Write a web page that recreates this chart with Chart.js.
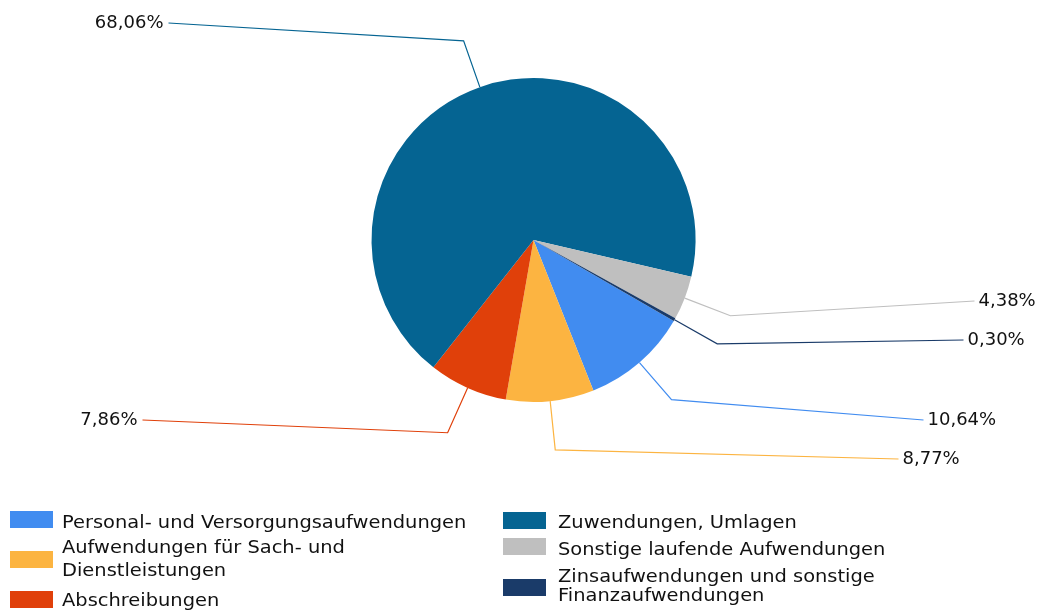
<!DOCTYPE html>
<html>
<head>
<meta charset="utf-8">
<script src="https://cdn.jsdelivr.net/npm/chart.js@4/dist/chart.umd.min.js"></script>
<style>
  body { margin: 0; background: #fff; }
  #wrap { position: relative; width: 1043px; height: 613px; overflow: hidden; }
  #pieChart { position: absolute; left: 0; top: 0; }
  .lg { position: absolute; font: 18px "DejaVu Sans", sans-serif; color: #111; white-space: nowrap;
        transform: scaleX(1.08); transform-origin: 0 0; }
  .sw { position: absolute; width: 43px; height: 17px; }
</style>
</head>
<body>
<div id="wrap">
  <canvas id="pieChart" width="1043" height="613"></canvas>
</div>
<script>
// categories and shares (in %)
const categories = [
  "Personal- und Versorgungsaufwendungen",
  "Aufwendungen für Sach- und Dienstleistungen",
  "Abschreibungen",
  "Zuwendungen, Umlagen",
  "Sonstige laufende Aufwendungen",
  "Zinsaufwendungen und sonstige Finanzaufwendungen"
];
const shares = [10.64, 8.77, 7.86, 68.06, 4.38, 0.30];
const colors = ["#418CF0", "#FCB441", "#E0400A", "#056492", "#BFBFBF", "#1A3B69"];

// where the leader lines end, relative to pie centre
const labelEnds = [[390, 180], [365, 219], [-391, 180], [-365, -217], [441, 61], [430, 100]];

const leaderLabels = {
  id: 'leaderLabels',
  afterDatasetsDraw(chart) {
    const c = chart.ctx;
    const meta = chart.getDatasetMeta(0);
    c.save();
    c.font = '18px "DejaVu Sans", sans-serif';
    c.textBaseline = 'middle';
    meta.data.forEach((arc, i) => {
      const p = arc.getProps(['x', 'y', 'startAngle', 'endAngle', 'outerRadius'], true);
      const mid = (p.startAngle + p.endAngle) / 2;
      const r = p.outerRadius;
      const ex = p.x + Math.cos(mid) * r, ey = p.y + Math.sin(mid) * r;
      const kx = p.x + Math.cos(mid) * (r + 49), ky = p.y + Math.sin(mid) * (r + 49);
      const tx = p.x + labelEnds[i][0], ty = p.y + labelEnds[i][1];
      c.strokeStyle = colors[i];
      c.lineWidth = 1.2;
      c.beginPath();
      c.moveTo(ex, ey);
      c.lineTo(kx, ky);
      c.lineTo(tx, ty);
      c.stroke();
      const txt = shares[i].toFixed(2).replace('.', ',') + '%';
      c.fillStyle = '#111';
      if (labelEnds[i][0] < 0) {
        c.textAlign = 'right';
        c.fillText(txt, tx - 5, ty);
      } else {
        c.textAlign = 'left';
        c.fillText(txt, tx + 4, ty);
      }
    });
    c.restore();
  }
};

const ctx = document.getElementById('pieChart').getContext('2d');

const pieChart = new Chart(ctx, {
  type: 'pie',
  data: {
    labels: categories,
    datasets: [{
      data: shares,
      backgroundColor: colors,
      borderWidth: 0
    }]
  },
  options: {
    responsive: false,
    animation: false,
    rotation: 120,
    layout: { padding: { left: 371.5, right: 347.5, top: 78, bottom: 211 } },
    plugins: {
      legend: { display: false },
      tooltip: { enabled: false }
    }
  },
  plugins: [leaderLabels]
});

// legend, two columns like the original
const legendSpots = [
  { sx: 10, sy: 511, tx: 62, ty: 512, lh: 20 },
  { sx: 10, sy: 551, tx: 62, ty: 535, lh: 23.4 },
  { sx: 10, sy: 591, tx: 62, ty: 590, lh: 20 },
  { sx: 503, sy: 512, tx: 558, ty: 512, lh: 20 },
  { sx: 503, sy: 538, tx: 558, ty: 539, lh: 20 },
  { sx: 503, sy: 579, tx: 558, ty: 566, lh: 19 }
];
const wrap = document.getElementById('wrap');
categories.forEach((name, i) => {
  const s = legendSpots[i];
  const sw = document.createElement('div');
  sw.className = 'sw';
  sw.style.left = s.sx + 'px';
  sw.style.top = s.sy + 'px';
  sw.style.background = colors[i];
  wrap.appendChild(sw);
  const t = document.createElement('div');
  t.className = 'lg';
  t.style.left = s.tx + 'px';
  t.style.top = s.ty + 'px';
  t.style.lineHeight = s.lh + 'px';
  // break long names the way the original legend wraps them
  t.innerHTML = name.replace('Sach- und ', 'Sach- und<br>').replace('sonstige ', 'sonstige<br>');
  wrap.appendChild(t);
});
</script>
</body>
</html>
